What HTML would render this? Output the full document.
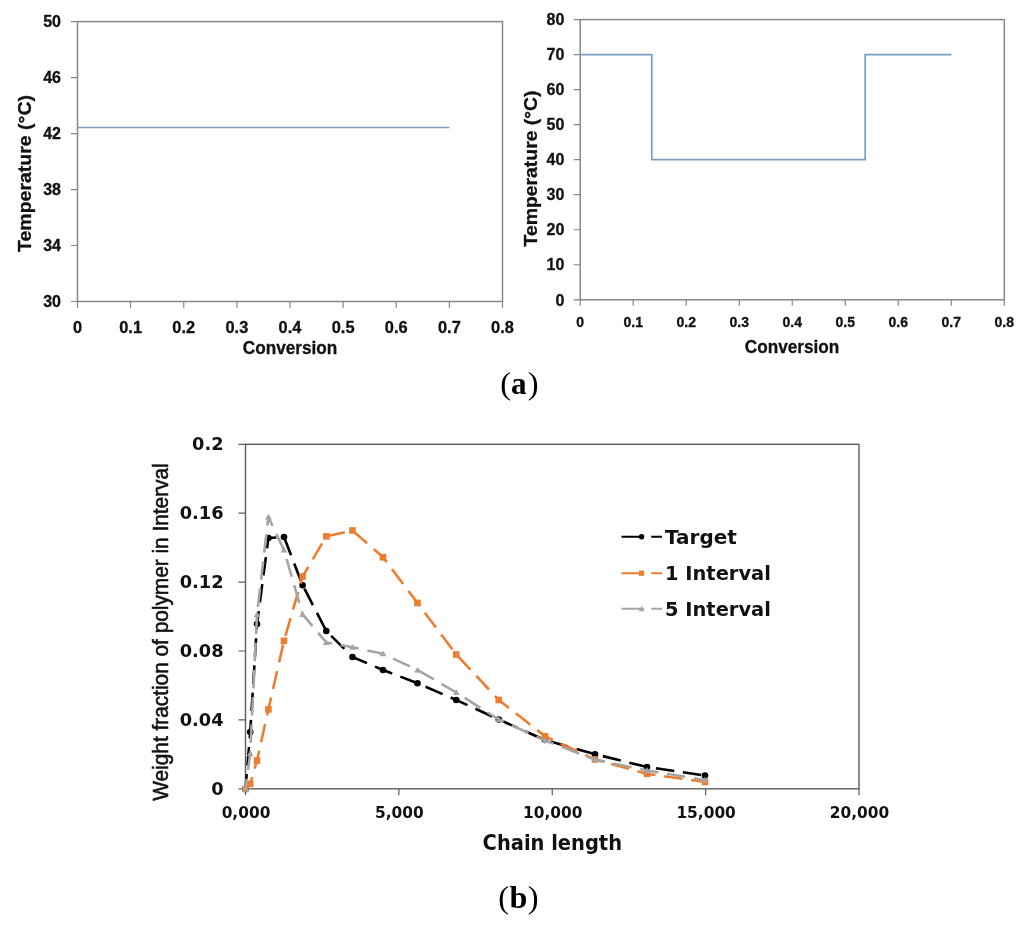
<!DOCTYPE html>
<html lang="en"><head><meta charset="utf-8"><title>Figure</title>
<style>html,body{margin:0;padding:0;background:#fff}svg{display:block}.c{font-family:"Liberation Sans",sans-serif;font-weight:bold;fill:#111111;stroke:#111;stroke-width:.3px}.d{font-family:"DejaVu Sans","Liberation Sans",sans-serif;font-weight:bold;fill:#111111}.r{font-family:"Liberation Sans",sans-serif;fill:#111}.e{font-family:"DejaVu Sans","Liberation Sans",sans-serif;fill:#111}.s{font-family:"Liberation Serif",serif;fill:#000}</style></head><body>
<svg width="1024" height="927" viewBox="0 0 1024 927">
<rect width="1024" height="927" fill="#fff"/>
<g fill="none" stroke="#888888" stroke-width="1.5">
<rect x="77.50" y="21.60" width="425.00" height="279.90"/>
<path d="M71.00 21.60H77.50M71.00 77.58H77.50M71.00 133.56H77.50M71.00 189.54H77.50M71.00 245.52H77.50M71.00 301.50H77.50M77.50 301.50V308.00M130.62 301.50V308.00M183.75 301.50V308.00M236.88 301.50V308.00M290.00 301.50V308.00M343.12 301.50V308.00M396.25 301.50V308.00M449.38 301.50V308.00M502.50 301.50V308.00" stroke-width="1.2"/>
</g>
<path d="M77.50 127.5H449.38" stroke="#7c9dbf" stroke-width="1.7" fill="none"/>
<text class="c" x="61.00" y="27.30" font-size="16.00" text-anchor="end">50</text>
<text class="c" x="61.00" y="83.28" font-size="16.00" text-anchor="end">46</text>
<text class="c" x="61.00" y="139.26" font-size="16.00" text-anchor="end">42</text>
<text class="c" x="61.00" y="195.24" font-size="16.00" text-anchor="end">38</text>
<text class="c" x="61.00" y="251.22" font-size="16.00" text-anchor="end">34</text>
<text class="c" x="61.00" y="307.20" font-size="16.00" text-anchor="end">30</text>
<text class="c" x="77.50" y="333.30" font-size="16.40" text-anchor="middle">0</text>
<text class="c" x="130.62" y="333.30" font-size="16.40" text-anchor="middle">0.1</text>
<text class="c" x="183.75" y="333.30" font-size="16.40" text-anchor="middle">0.2</text>
<text class="c" x="236.88" y="333.30" font-size="16.40" text-anchor="middle">0.3</text>
<text class="c" x="290.00" y="333.30" font-size="16.40" text-anchor="middle">0.4</text>
<text class="c" x="343.12" y="333.30" font-size="16.40" text-anchor="middle">0.5</text>
<text class="c" x="396.25" y="333.30" font-size="16.40" text-anchor="middle">0.6</text>
<text class="c" x="449.38" y="333.30" font-size="16.40" text-anchor="middle">0.7</text>
<text class="c" x="502.50" y="333.30" font-size="16.40" text-anchor="middle">0.8</text>
<text class="c" transform="translate(290.00 353.80) scale(0.9439 1)" font-size="18.20" text-anchor="middle">Conversion</text>
<text class="c" transform="translate(31.00 173.50) rotate(-90) scale(1.0720 1)" font-size="18.20" text-anchor="middle">Temperature (&#176;C)</text>
<g fill="none" stroke="#888888" stroke-width="1.5">
<rect x="580.20" y="19.60" width="424.10" height="280.20"/>
<path d="M573.70 19.60H580.20M573.70 54.62H580.20M573.70 89.65H580.20M573.70 124.67H580.20M573.70 159.70H580.20M573.70 194.72H580.20M573.70 229.75H580.20M573.70 264.77H580.20M573.70 299.80H580.20M580.20 299.80V305.80M633.21 299.80V305.80M686.23 299.80V305.80M739.24 299.80V305.80M792.25 299.80V305.80M845.26 299.80V305.80M898.27 299.80V305.80M951.29 299.80V305.80M1004.30 299.80V305.80" stroke-width="1.2"/>
</g>
<path d="M580.20 54.62H651.8V159.70H865.2V54.62H951.5" stroke="#7c9dbf" stroke-width="1.7" fill="none" stroke-linejoin="miter"/>
<text class="c" x="564.30" y="25.30" font-size="16.00" text-anchor="end">80</text>
<text class="c" x="564.30" y="60.33" font-size="16.00" text-anchor="end">70</text>
<text class="c" x="564.30" y="95.35" font-size="16.00" text-anchor="end">60</text>
<text class="c" x="564.30" y="130.37" font-size="16.00" text-anchor="end">50</text>
<text class="c" x="564.30" y="165.40" font-size="16.00" text-anchor="end">40</text>
<text class="c" x="564.30" y="200.42" font-size="16.00" text-anchor="end">30</text>
<text class="c" x="564.30" y="235.45" font-size="16.00" text-anchor="end">20</text>
<text class="c" x="564.30" y="270.47" font-size="16.00" text-anchor="end">10</text>
<text class="c" x="564.30" y="305.50" font-size="16.00" text-anchor="end">0</text>
<text class="c" x="580.20" y="327.30" font-size="14.00" text-anchor="middle">0</text>
<text class="c" x="633.21" y="327.30" font-size="14.00" text-anchor="middle">0.1</text>
<text class="c" x="686.23" y="327.30" font-size="14.00" text-anchor="middle">0.2</text>
<text class="c" x="739.24" y="327.30" font-size="14.00" text-anchor="middle">0.3</text>
<text class="c" x="792.25" y="327.30" font-size="14.00" text-anchor="middle">0.4</text>
<text class="c" x="845.26" y="327.30" font-size="14.00" text-anchor="middle">0.5</text>
<text class="c" x="898.27" y="327.30" font-size="14.00" text-anchor="middle">0.6</text>
<text class="c" x="951.29" y="327.30" font-size="14.00" text-anchor="middle">0.7</text>
<text class="c" x="1004.30" y="327.30" font-size="14.00" text-anchor="middle">0.8</text>
<text class="c" transform="translate(792.00 353.00) scale(0.9439 1)" font-size="18.20" text-anchor="middle">Conversion</text>
<text class="c" transform="translate(536.70 168.50) rotate(-90) scale(1.0653 1)" font-size="18.20" text-anchor="middle">Temperature (&#176;C)</text>
<text class="s" font-size="32.5" y="393.8"><tspan x="500.3">(</tspan><tspan x="511" y="393.6" font-weight="bold" font-size="31.2">a</tspan><tspan x="527.8" y="393.8">)</tspan></text>
<text class="s" font-size="32.5" y="907.7"><tspan x="498.3">(</tspan><tspan x="509.5" y="908.4" font-weight="bold" font-size="32.2">b</tspan><tspan x="527.8" y="907.7">)</tspan></text>
<g fill="none" stroke="#5c5c5c" stroke-width="1.4">
<rect x="245.50" y="444.30" width="613.50" height="344.50"/>
<path d="M238.50 444.30H245.50M238.50 513.20H245.50M238.50 582.10H245.50M238.50 651.00H245.50M238.50 719.90H245.50M238.50 788.80H245.50M245.50 788.80V795.30M398.88 788.80V795.30M552.25 788.80V795.30M705.62 788.80V795.30M859.00 788.80V795.30" stroke-width="1.2"/>
</g>
<polyline points="245.5,789.0 250.2,732.0 257.0,624.0 268.4,538.0 284.0,537.0 302.6,585.2 326.3,631.0 352.5,657.0 383.0,670.0 417.5,683.2 456.3,700.0 498.8,719.5 545.0,740.0 595.0,754.2 647.0,767.0 705.0,775.5" fill="none" stroke="#000000" stroke-width="2.6" stroke-dasharray="18.5 8.75" stroke-dashoffset="3.6" stroke-linejoin="round"/>
<g fill="#000000"><circle cx="245.5" cy="789.0" r="3.3"/><circle cx="250.2" cy="732.0" r="3.3"/><circle cx="257.0" cy="624.0" r="3.3"/><circle cx="268.4" cy="538.0" r="3.3"/><circle cx="284.0" cy="537.0" r="3.3"/><circle cx="302.6" cy="585.2" r="3.3"/><circle cx="326.3" cy="631.0" r="3.3"/><circle cx="352.5" cy="657.0" r="3.3"/><circle cx="383.0" cy="670.0" r="3.3"/><circle cx="417.5" cy="683.2" r="3.3"/><circle cx="456.3" cy="700.0" r="3.3"/><circle cx="498.8" cy="719.5" r="3.3"/><circle cx="545.0" cy="740.0" r="3.3"/><circle cx="595.0" cy="754.2" r="3.3"/><circle cx="647.0" cy="767.0" r="3.3"/><circle cx="705.0" cy="775.5" r="3.3"/></g>
<polyline points="245.5,789.0 250.2,783.8 257.0,760.6 268.4,709.4 284.0,640.8 302.6,576.5 326.3,536.4 352.5,530.5 383.0,557.2 417.5,603.0 456.3,654.5 498.8,700.0 545.0,736.2 595.0,759.5 647.0,773.8 705.0,782.0" fill="none" stroke="#ed7d31" stroke-width="2.6" stroke-dasharray="18.5 8.75" stroke-dashoffset="4.4" stroke-linejoin="round"/>
<g fill="#ed7d31"><rect x="242.2" y="785.7" width="6.6" height="6.6"/><rect x="246.9" y="780.5" width="6.6" height="6.6"/><rect x="253.7" y="757.3" width="6.6" height="6.6"/><rect x="265.1" y="706.1" width="6.6" height="6.6"/><rect x="280.7" y="637.5" width="6.6" height="6.6"/><rect x="299.3" y="573.2" width="6.6" height="6.6"/><rect x="323.0" y="533.1" width="6.6" height="6.6"/><rect x="349.2" y="527.2" width="6.6" height="6.6"/><rect x="379.7" y="554.0" width="6.6" height="6.6"/><rect x="414.2" y="599.7" width="6.6" height="6.6"/><rect x="453.0" y="651.2" width="6.6" height="6.6"/><rect x="495.4" y="696.7" width="6.6" height="6.6"/><rect x="541.7" y="733.0" width="6.6" height="6.6"/><rect x="591.7" y="756.2" width="6.6" height="6.6"/><rect x="643.7" y="770.5" width="6.6" height="6.6"/><rect x="701.7" y="778.7" width="6.6" height="6.6"/></g>
<polyline points="245.5,789.0 250.2,753.8 257.0,614.4 268.4,517.0 284.0,550.0 302.6,614.4 326.3,642.5 352.5,647.2 383.0,653.8 417.5,670.0 456.3,692.5 498.8,719.5 545.0,740.5 595.0,759.5 647.0,770.5 705.0,780.0" fill="none" stroke="#a5a5a5" stroke-width="2.6" stroke-dasharray="18.5 8.75" stroke-dashoffset="8.0" stroke-linejoin="round"/>
<g fill="#a5a5a5"><path d="M245.5 785.8l3.4 5.8h-6.8z"/><path d="M250.2 750.5l3.4 5.8h-6.8z"/><path d="M257.0 611.2l3.4 5.8h-6.8z"/><path d="M268.4 513.8l3.4 5.8h-6.8z"/><path d="M284.0 546.8l3.4 5.8h-6.8z"/><path d="M302.6 611.2l3.4 5.8h-6.8z"/><path d="M326.3 639.3l3.4 5.8h-6.8z"/><path d="M352.5 644.0l3.4 5.8h-6.8z"/><path d="M383.0 650.5l3.4 5.8h-6.8z"/><path d="M417.5 666.8l3.4 5.8h-6.8z"/><path d="M456.3 689.3l3.4 5.8h-6.8z"/><path d="M498.8 716.3l3.4 5.8h-6.8z"/><path d="M545.0 737.3l3.4 5.8h-6.8z"/><path d="M595.0 756.3l3.4 5.8h-6.8z"/><path d="M647.0 767.3l3.4 5.8h-6.8z"/><path d="M705.0 776.8l3.4 5.8h-6.8z"/></g>
<text class="d" x="223.60" y="450.20" font-size="17.80" text-anchor="end">0.2</text>
<text class="d" x="223.60" y="519.10" font-size="17.80" text-anchor="end">0.16</text>
<text class="d" x="223.60" y="588.00" font-size="17.80" text-anchor="end">0.12</text>
<text class="d" x="223.60" y="656.90" font-size="17.80" text-anchor="end">0.08</text>
<text class="d" x="223.60" y="725.80" font-size="17.80" text-anchor="end">0.04</text>
<text class="d" x="223.60" y="794.70" font-size="17.80" text-anchor="end">0</text>
<text class="d" x="246.00" y="817.60" font-size="15.40" text-anchor="middle">0,000</text>
<text class="d" x="399.38" y="817.60" font-size="15.40" text-anchor="middle">5,000</text>
<text class="d" x="552.75" y="817.60" font-size="15.40" text-anchor="middle">10,000</text>
<text class="d" x="706.12" y="817.60" font-size="15.40" text-anchor="middle">15,000</text>
<text class="d" x="859.50" y="817.60" font-size="15.40" text-anchor="middle">20,000</text>
<text class="d" transform="translate(552.30 850.20) scale(0.9595 1)" font-size="20.30" text-anchor="middle">Chain length</text>
<text class="r" transform="translate(168.30 632.00) rotate(-90) scale(0.9687 1)" font-size="21.50" text-anchor="middle" stroke="#111" stroke-width="0.55">Weight fraction of polymer in Interval</text>
<path d="M621.5 536.7H644M651.2 536.7H662" stroke="#000000" stroke-width="2" fill="none"/>
<circle cx="641.6" cy="536.7" r="2.7" fill="#000000"/>
<text class="d" transform="translate(665.00 544.00) scale(0.9958 1)" font-size="20.10" text-anchor="start">Target</text>
<path d="M621.5 573.2H644M651.2 573.2H662" stroke="#ed7d31" stroke-width="2" fill="none"/>
<rect x="639" y="570.6" width="5.2" height="5.2" fill="#ed7d31"/>
<text class="d" transform="translate(665.00 580.20) scale(0.9682 1)" font-size="20.10" text-anchor="start">1 Interval</text>
<path d="M621.5 608.8H644M651.2 608.8H662" stroke="#a5a5a5" stroke-width="2" fill="none"/>
<path d="M641.6 605.8l3 5.4h-6z" fill="#a5a5a5"/>
<text class="d" transform="translate(665.00 615.60) scale(0.9682 1)" font-size="20.10" text-anchor="start">5 Interval</text>
</svg></body></html>
